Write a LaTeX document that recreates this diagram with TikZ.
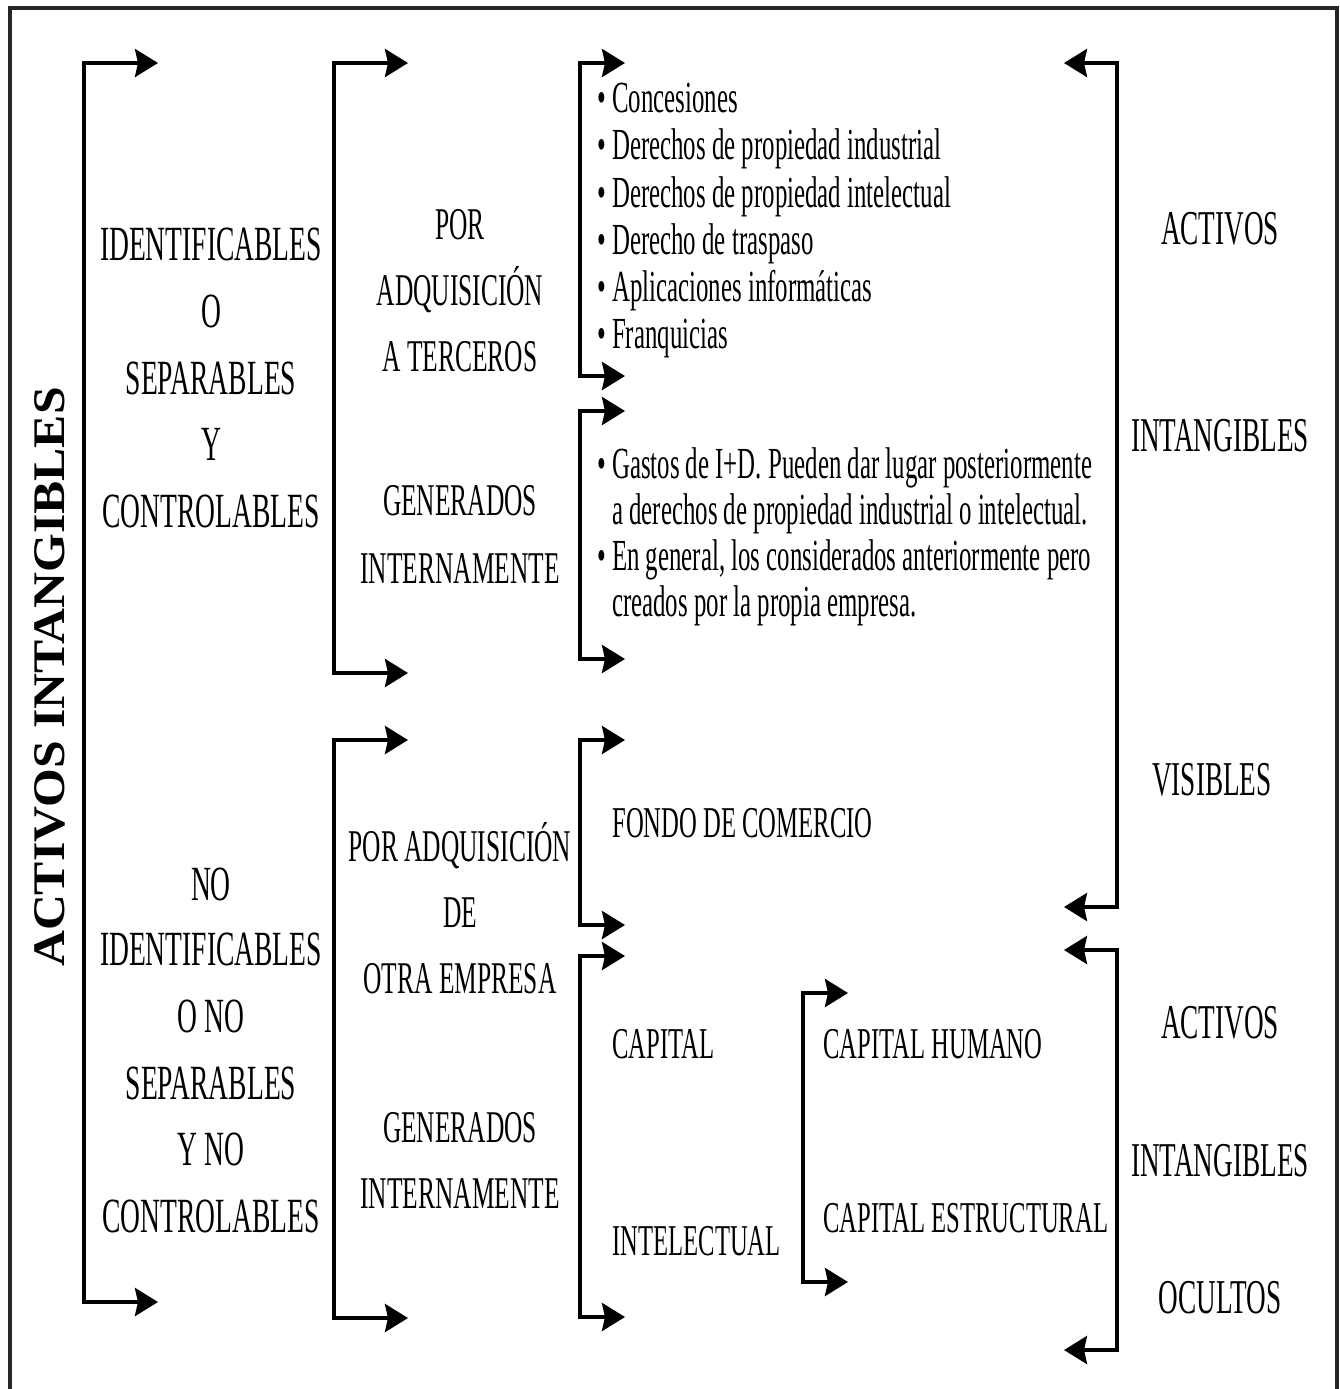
\documentclass[tikz,border=0pt]{standalone}
\usepackage{fontspec}
\setmainfont[FakeStretch=0.56]{Liberation Serif}
\newfontfamily\titlefont[FakeStretch=1.1]{Liberation Serif}
\usetikzlibrary{arrows.meta}
\newcommand{\bul}{•\hspace{3pt}}
\newcommand{\nobul}{\phantom{•}\hspace{3pt}}
\tikzset{
  br/.style={line width=1.9pt, {Stealth[length=11.5pt,width=14pt,inset=1.5pt]}-{Stealth[length=11.5pt,width=14pt,inset=1.5pt]}},
  lbl/.style={inner sep=0pt, anchor=base},
  lft/.style={inner sep=0pt, anchor=base west},
  bigf/.style={lbl, font=\fontsize{24.6pt}{30pt}\selectfont},
  rgtf/.style={lbl, font=\fontsize{24.3pt}{30pt}\selectfont},
  midf/.style={lbl, font=\fontsize{22.7pt}{28pt}\selectfont},
  bulf/.style={lft, font=\fontsize{22.2pt}{28pt}\selectfont},
  capf/.style={lft, font=\fontsize{22pt}{28pt}\selectfont},
}
\begin{document}
\begin{tikzpicture}[x=0.5pt,y=-0.5pt]
\useasboundingbox (0,0) rectangle (1340,1389);
\fill[white] (0,0) rectangle (1340,1389);
% frame
\draw[line width=2pt, black!85] (10,1389) -- (10,8) -- (1337,8) -- (1337,1389);

% title
\node[inner sep=0pt, rotate=90, font=\titlefont\bfseries\fontsize{22.6pt}{28pt}\selectfont] (title) at (50,677) {ACTIVOS INTANGIBLES};

% bracket coordinates
\coordinate (b1t) at (158,63);  \coordinate (b1a) at (84,63);  \coordinate (b1b) at (84,1302);  \coordinate (b1e) at (158,1302);
\coordinate (b2t) at (408,63);  \coordinate (b2a) at (334,63); \coordinate (b2b) at (334,673);  \coordinate (b2e) at (408,673);
\coordinate (b3t) at (408,740); \coordinate (b3a) at (334,740);\coordinate (b3b) at (334,1318); \coordinate (b3e) at (408,1318);
\coordinate (b4t) at (625,63);  \coordinate (b4a) at (580,63); \coordinate (b4b) at (580,376);  \coordinate (b4e) at (625,376);
\coordinate (b5t) at (625,411); \coordinate (b5a) at (580,411);\coordinate (b5b) at (580,659);  \coordinate (b5e) at (625,659);
\coordinate (b6t) at (625,740); \coordinate (b6a) at (580,740);\coordinate (b6b) at (580,925);  \coordinate (b6e) at (625,925);
\coordinate (b7t) at (625,956); \coordinate (b7a) at (580,956);\coordinate (b7b) at (580,1317); \coordinate (b7e) at (625,1317);
\coordinate (b8t) at (848,993); \coordinate (b8a) at (803,993);\coordinate (b8b) at (803,1282); \coordinate (b8e) at (848,1282);
\coordinate (r1t) at (1064,63); \coordinate (r1a) at (1117,63);\coordinate (r1b) at (1117,907); \coordinate (r1e) at (1064,907);
\coordinate (r2t) at (1064,950);\coordinate (r2a) at (1117,950);\coordinate (r2b) at (1117,1350);\coordinate (r2e) at (1064,1350);

\foreach \b in {b1,b2,b3,b4,b5,b6,b7,b8,r1,r2}
  \draw[br] (\b t) -- (\b a) -- (\b b) -- (\b e);

% left labels
\node[bigf] (l1) at (211,260) {IDENTIFICABLES};
\node[bigf] (l2) at (211,327) {O};
\node[bigf] (l3) at (211,394) {SEPARABLES};
\node[bigf] (l4) at (211,460) {Y};
\node[bigf] (l5) at (211,527) {CONTROLABLES};
\node[bigf] (m1) at (211,900) {NO};
\node[bigf] (m2) at (211,965) {IDENTIFICABLES};
\node[bigf] (m3) at (211,1032) {O NO};
\node[bigf] (m4) at (211,1099) {SEPARABLES};
\node[bigf] (m5) at (211,1165) {Y NO};
\node[bigf] (m6) at (211,1232) {CONTROLABLES};

% middle labels
\node[midf] (p1) at (460,239) {POR};
\node[midf] (p2) at (460,305) {ADQUISICIÓN};
\node[midf] (p3) at (460,371) {A TERCEROS};
\node[midf] (g1) at (460,515) {GENERADOS};
\node[midf] (g2) at (460,583) {INTERNAMENTE};
\node[midf] (q1) at (460,861) {POR ADQUISICIÓN};
\node[midf] (q2) at (460,927) {DE};
\node[midf] (q3) at (460,993) {OTRA EMPRESA};
\node[midf] (h1) at (460,1142) {GENERADOS};
\node[midf] (h2) at (460,1208) {INTERNAMENTE};

% bullet list 1
\node[bulf] (c1) at (597,112) {\bul Concesiones};
\node[bulf] (c2) at (597,159) {\bul Derechos de propiedad industrial};
\node[bulf] (c3) at (597,207) {\bul Derechos de propiedad intelectual};
\node[bulf] (c4) at (597,254) {\bul Derecho de traspaso};
\node[bulf] (c5) at (597,301) {\bul Aplicaciones informáticas};
\node[bulf] (c6) at (597,348) {\bul Franquicias};

% bullet list 2
\node[bulf] (d1) at (597,478) {\bul Gastos de I+D. Pueden dar lugar posteriormente};
\node[bulf] (d2) at (597,524) {\nobul a derechos de propiedad industrial o intelectual.};
\node[bulf] (d3) at (597,570) {\bul En general, los considerados anteriormente pero};
\node[bulf] (d4) at (597,616) {\nobul creados por la propia empresa.};

% lower right
\node[capf] (fc) at (612,837) {FONDO DE COMERCIO};
\node[capf] (ci1) at (612,1058) {CAPITAL};
\node[capf] (ci2) at (612,1255) {INTELECTUAL};
\node[capf] (ch) at (823,1058) {CAPITAL HUMANO};
\node[capf] (ce) at (823,1232) {CAPITAL ESTRUCTURAL};

% right labels
\node[rgtf] (a1) at (1220,244) {ACTIVOS};
\node[rgtf] (a2) at (1220,451) {INTANGIBLES};
\node[rgtf] (a3) at (1212,795) {VISIBLES};
\node[rgtf] (o1) at (1220,1038) {ACTIVOS};
\node[rgtf] (o2) at (1220,1176) {INTANGIBLES};
\node[rgtf] (o3) at (1220,1313) {OCULTOS};
\end{tikzpicture}
\end{document}
